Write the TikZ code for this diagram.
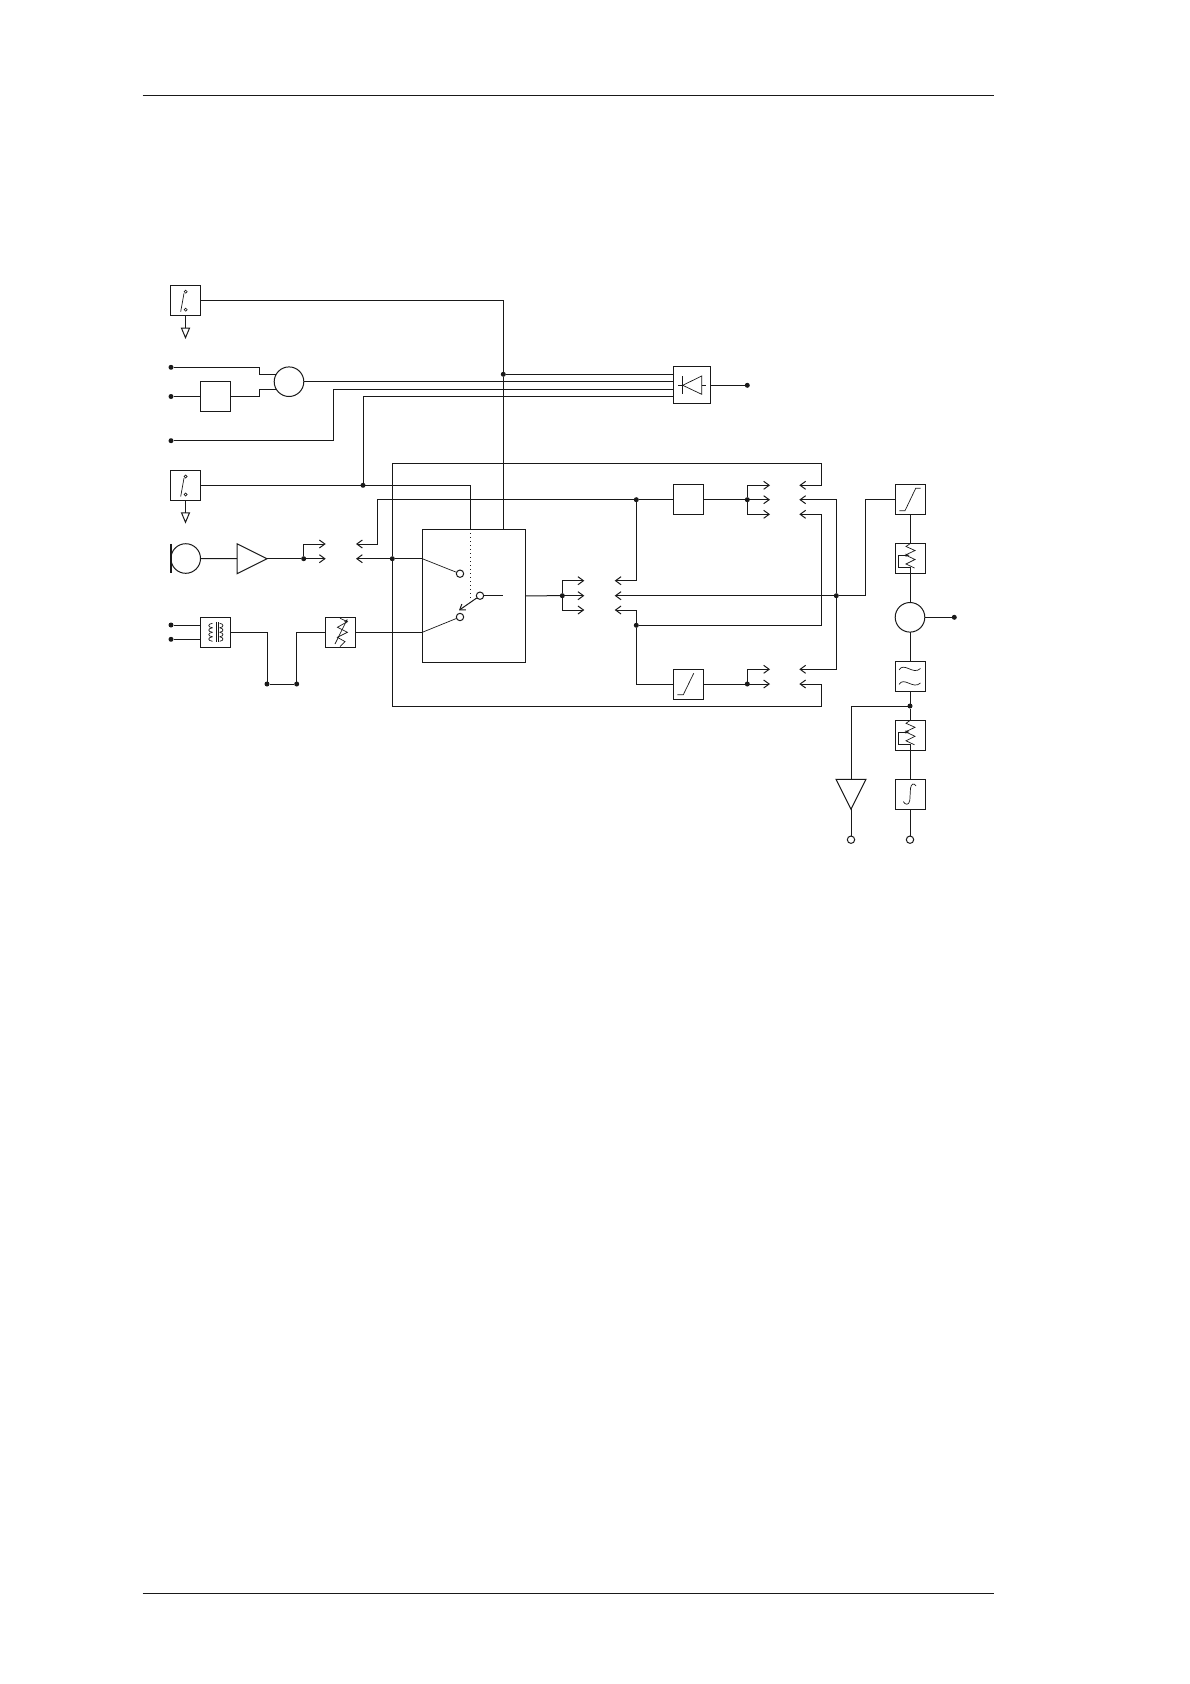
\documentclass[tikz,border=0pt]{standalone}
\usepackage{amsmath}
\usetikzlibrary{arrows.meta,calc,positioning,shapes.geometric}
\tikzset{
  blockbox/.style={draw, rectangle, minimum size=30pt, inner sep=0pt, outer sep=0pt},
  roundbox/.style={draw, circle, minimum size=29.6pt, inner sep=0pt, outer sep=0pt},
  jdot/.style={circle, fill=black!90, minimum size=5pt, inner sep=0pt, outer sep=0pt},
  opendot/.style={draw, circle, fill=white, minimum size=7.4pt, inner sep=0pt, outer sep=0pt},
  ampbox/.style={draw, isosceles triangle, isosceles triangle stretches, minimum width=30pt, minimum height=30pt, inner sep=0pt, outer sep=0pt},
  gndbox/.style={draw, isosceles triangle, isosceles triangle stretches, shape border rotate=-90, minimum width=8pt, minimum height=9.5pt, inner sep=0pt, outer sep=0pt},
  sig/.style={-{Straight Barb[length=5.5pt,width=8pt]}},
  sym/.style={line width=0.7pt},
  pics/switchsym/.style={code={
    \draw[sym] (-4.8,11.2) -- (-1.5,-7.2);
    \draw[sym] (0.2,-10.3) -- (1.7,-8.8) -- (0.2,-7.3) -- (-1.3,-8.8) -- cycle;
    \draw[sym] (0.2,7.7) -- (1.7,9.2) -- (0.2,10.7) -- (-1.3,9.2) -- cycle;
  }},
  pics/diodesym/.style={code={
    \draw[sym] (-9.3,0) -- (9.7,-9.3) -- (9.7,9) -- cycle;
    \draw[sym] (-9.3,-9.3) -- (-9.3,9);
    \draw[sym] (-14,0) -- (-9.3,0) (9.7,0) -- (13.7,0);
  }},
  pics/rampsym/.style={code={
    \draw[sym] (-11.2,10.7) -- (-5.2,10.7) -- (5.2,-10.7);
  }},
  pics/limitsym/.style={code={
    \draw[sym] (-10.7,11.2) -- (-5,11.2) -- (5.7,-11.2) -- (10.7,-11.2);
  }},
  pics/trimsym/.style={code={
    \draw[sym] (0,-14.8) -- (-4,-12) -- (5,-8) -- (-4.5,-3.5) -- (5,1) -- (-4,5.5) -- (4.5,9.5);
    \draw[sym,-{Stealth[length=4pt,width=3pt]}] (0,14.8) -- (0,9) -- (-11.3,9) -- (-11.3,-3.3) -- (-0.5,-3.3);
  }},
  pics/potsym/.style={code={
    \draw[sym] (-0.7,-14) -- (6.7,-10.7) -- (-3.3,-5) -- (6.7,0) -- (-3.3,5) -- (4.3,9.3) -- (-0.7,14.3);
    \draw[sym,-{Stealth[length=4pt,width=3pt]}] (-5.7,11.7) -- (6.7,-13.3);
  }},
  pics/xfmrsym/.style={code={
    \draw[sym] (0.7,-10) -- (0.7,10) (2.7,-10) -- (2.7,10);
    \foreach \i in {0,...,3} {
      \draw[sym] (-3,-9+\i*4.5) .. controls (-8,-8.5+\i*4.5) and (-8,-5+\i*4.5) .. (-3,-4.5+\i*4.5);
      \draw[sym] (4.2,-9+\i*4.5) .. controls (8.5,-8.5+\i*4.5) and (8.5,-5+\i*4.5) .. (4.2,-4.5+\i*4.5);
    }
  }},
  pics/bandsym/.style={code={
    \draw[sym] (-11,-6.5) .. controls (-6,-15) and (3,-1) .. (10.5,-8);
    \draw[sym] (-11,8) .. controls (-6,-0.5) and (3,13.5) .. (10.5,6.5);
  }},
  pics/intsym/.style={code={
    \draw[sym] (-6.7,7.3) .. controls (-5,10.5) and (-1,11.5) .. (-0.2,6) -- (0.5,-6) .. controls (1,-11) and (4.5,-11.5) .. (6,-8.3);
  }}
}
\begin{document}
\begin{tikzpicture}[x=1pt, y=-1pt, line width=1pt, color=black!90]
  \useasboundingbox (0,0) rectangle (1190,1684);
  \draw (142.5,95.3) -- (994,95.3);
  \draw (142.5,1593.5) -- (994,1593.5);

  \node[blockbox] (swa) at (185.5,300.5) {};
  \node[blockbox] (swb) at (185.5,485.3) {};
  \node[blockbox] (pad) at (215.5,396.5) {};
  \node[roundbox] (sum) at (289,381.7) {};
  \node[blockbox, minimum size=37pt] (dio) at (692,385.3) {};
  \node[roundbox] (mic) at (185.7,558.5) {};
  \node[ampbox, anchor=apex] (ampa) at (267,558.7) {};
  \node[blockbox] (xfmr) at (215.5,632.3) {};
  \node[blockbox] (pot) at (340.7,632.3) {};
  \node[blockbox, minimum width=103.4pt, minimum height=133pt] (big) at (474,595.8) {};
  \node[blockbox] (boxa) at (688.5,499.7) {};
  \node[blockbox] (ramp) at (688.5,684) {};
  \node[blockbox] (lima) at (910,499.5) {};
  \node[blockbox] (trima) at (910,558.5) {};
  \node[roundbox] (det) at (910,617.3) {};
  \node[blockbox] (band) at (910,676.5) {};
  \node[blockbox] (trimb) at (910,735.3) {};
  \node[blockbox] (integ) at (910,794.3) {};
  \node[ampbox, shape border rotate=-90, anchor=apex] (ampb) at (851,809.3) {};
  \node[gndbox, anchor=apex] (gnda) at (185.5,337.7) {};
  \node[gndbox, anchor=apex] (gndb) at (185.5,522.3) {};

  \foreach \n/\x/\y in {ina/171/367.3, inb/171/396.5, inc/171/440.7, ind/171/625, ine/171/639.3,
      ja/503.3/374.3, jb/363/485.3, jc/392.3/558.7, je/303.7/558.7, jf/636.3/499.7, jg/747.3/499.7,
      jh/836.3/595.7, ji/636.3/625.3, jk/747.3/684, jm/562.3/595.7, jn/910/706, jp/267/684, jq/296.7/684,
      outa/747.3/385.3, outb/954.3/617.3}
    \node[jdot] (\n) at (\x,\y) {};
  \foreach \n/\x/\y in {ca/460/573.7, cb/460/617, cc/480/595.7, outc/851/839.7, outd/910/839.7}
    \node[opendot] (\n) at (\x,\y) {};

  \foreach \n/\x/\y in {ta/325.7/544, tb/325.7/558.7, tc/356/544, td/356/558.7,
      ga/770/485.3, gb/770/499.7, gc/770/514.3, gd/770/669.3, ge/770/684,
      ra/799.3/485.3, rb/799.3/499.7, rc/799.3/514.3, rd/799.3/669.3, re/799.3/684,
      ma/584.3/580.7, mb/584.3/595.7, mc/584.3/610,
      na/614.7/580.7, nb/614.7/595.7, nc/614.7/610,
      ka/259.3/367.3, kb/259.3/396.5, kc/333.3/389.3, kd/363/396.3, kf/377.3/544,
      lt/821.7/463, lu/821.7/706.3, lv/821.7/514.3, lw/865.3/499.5,
      ctl/470.3/529.3, ctm/470.3/600, cte/502.7/595.7, ctp/459/610.3}
    \coordinate (\n) at (\x,\y);

  \pic at (swa) {switchsym};
  \pic at (swb) {switchsym};
  \pic at (dio) {diodesym};
  \pic at (xfmr) {xfmrsym};
  \pic at (pot) {potsym};
  \pic at (ramp) {rampsym};
  \pic at (lima) {limitsym};
  \pic at (trima) {trimsym};
  \pic at (band) {bandsym};
  \pic at (trimb) {trimsym};
  \pic at (integ) {intsym};

  \draw (swa) -- (gnda.lower side);
  \draw (swb) -- (gndb.lower side);
  \draw (swa.east) -| (ja) -- (ja |- big.north);
  \draw (ja) -- (ja -| dio.west);
  \draw (ina) -- (ka) |- (sum.150);
  \draw (inb) -- (pad);
  \draw (pad) -- (kb) |- (sum.210);
  \draw (sum.east) -- (sum.east -| dio.west);
  \draw (inc) -| (kc) -- (kc -| dio.west);
  \draw (jb) -- (kd) -- (kd -| dio.west);
  \draw (dio) -- (outa);
  \draw (swb.east) -| (ctl);
  \draw[line width=1.6pt] ($(mic.west)+(0,-14.7)$) -- ($(mic.west)+(0,14.7)$);
  \draw (mic) -- (ampa.lower side);
  \draw (ampa.apex) -- (je);
  \draw[sig] (je) -- (tb);
  \draw[sig] (je) |- (ta);
  \draw[sig] (jc) -- (td);
  \draw (jc) -- (jc -| big.west);
  \draw[sig] (jc) |- (lt) |- (ra);
  \draw[sig] (jc) |- (lu) |- (re);
  \draw[sig] (jf) -| (kf) -- (tc);
  \draw (jf) -- (boxa);
  \draw (boxa) -- (jg);
  \foreach \t in {ga,gb,gc} \draw[sig] (jg) |- (\t);
  \draw[sig] (jf) |- (na);
  \draw[sig] (jh) |- (rb);
  \draw[sig] (jh) |- (rd);
  \draw[sig] (jh) -- (nb);
  \draw (jh) -| (lw) -- (lima);
  \draw[sig] (ji) -| (lv) -- (rc);
  \draw[sig] (ji) |- (nc);
  \draw (ji) |- (ramp);
  \draw (ramp) -- (jk);
  \foreach \t in {gd,ge} \draw[sig] (jk) |- (\t);
  \draw (big.east) -- (jm);
  \foreach \t in {ma,mb,mc} \draw[sig] (jm) |- (\t);
  \draw (ind) -- (ind -| xfmr.west);
  \draw (ine) -- (ine -| xfmr.west);
  \draw (xfmr) -| (jp) -- (jq) |- (pot);
  \draw (pot) -- (pot -| big.west);
  \draw[line width=0.7pt] (jc -| big.west) -- (ca);
  \draw[line width=0.7pt] (pot -| big.west) -- (cb);
  \draw (cc) -- (cte);
  \draw[-{Straight Barb[length=5pt,width=7pt]}] (cc) -- (ctp);
  \draw[line width=0.7pt, dash pattern=on 1pt off 3pt] (ctl) -- (ctm);
  \draw (lima) -- (trima);
  \draw (trima) -- (det);
  \draw (det) -- (band);
  \draw (band) -- (jn);
  \draw (jn) -- (trimb);
  \draw (trimb) -- (integ);
  \draw (integ) -- (outd);
  \draw (det) -- (outb);
  \draw (jn) -| (ampb.lower side);
  \draw (ampb.apex) -- (outc);
\end{tikzpicture}
\end{document}
